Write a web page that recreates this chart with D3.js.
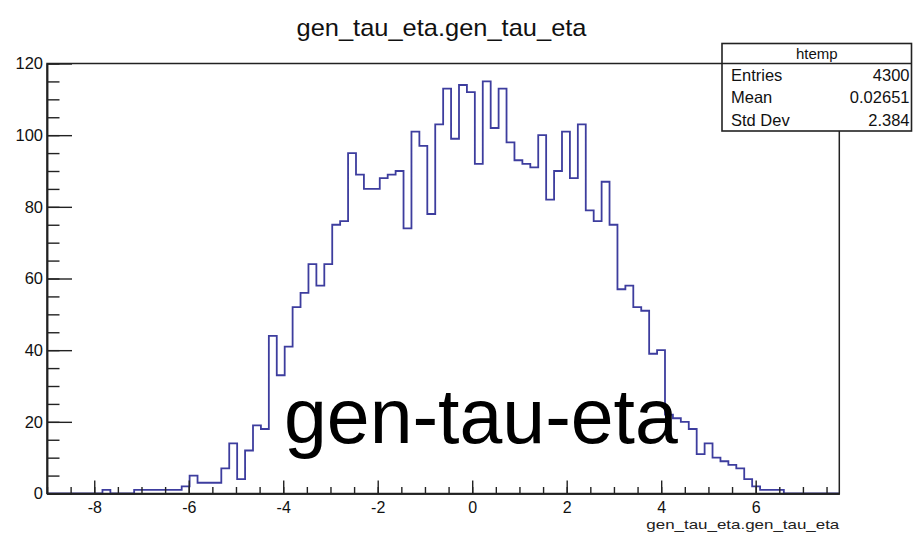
<!DOCTYPE html>
<html>
<head>
<meta charset="utf-8">
<script src="https://cdn.jsdelivr.net/npm/d3@7"></script>
<style>
  html, body { margin: 0; padding: 0; background: #fff; }
  svg { display: block; }
  text { font-family: "Liberation Sans", Arial, Helvetica, sans-serif; }
</style>
</head>
<body>
<svg id="chart" width="913" height="533"></svg>
<script>
// Histogram binning (100 equal bins) and bin contents
const xMin = -9.0;
const xMax = 7.77;
const nBins = 100;
const counts = [
  0, 0, 0, 0, 0, 0, 0, 1, 0, 0,
  0, 1, 1, 1, 1, 1, 1, 2, 5, 3,
  3, 3, 7, 14, 4, 12, 19, 18, 44, 33,
  41, 52, 56, 64, 58, 64, 75, 76, 95, 89,
  85, 85, 88, 89, 90, 74, 101, 97, 78, 103,
  113, 99, 114, 112, 92, 115, 102, 113, 98, 93,
  92, 91, 100, 82, 90, 101, 88, 103, 79, 76,
  87, 75, 57, 58, 52, 51, 39, 40, 22, 21,
  20, 18, 11, 14, 10, 9, 8, 7, 4, 2,
  1, 1, 1, 0, 0, 0, 0, 0, 0, 0
];

// Axis ticks
const xMajorTicks = [-8, -6, -4, -2, 0, 2, 4, 6];
const xMinorStep = 0.5;
const yMax = 120;
const yMajorTicks = [0, 20, 40, 60, 80, 100, 120];
const yMinorStep = 5;

// Texts
const histTitle = "gen_tau_eta.gen_tau_eta";
const xAxisTitle = "gen_tau_eta.gen_tau_eta";
const statsName = "htemp";
const statsLabels = ["Entries", "Mean", "Std Dev"];
const statsValues = ["4300", "0.02651", "2.384"];
const overlayText = "gen-tau-eta";

// Layout
const frame = { left: 47, right: 839.3, top: 63.5, bottom: 493.5 };
const lineColor = "#3d3d9e";
const axisColor = "#222";

const svg = d3.select("#chart");

const x = d3.scaleLinear().domain([xMin, xMax]).range([frame.left, frame.right]);
const y = d3.scaleLinear().domain([0, yMax]).range([frame.bottom, frame.top]);

// frame background
svg.append("rect")
  .attr("x", frame.left).attr("y", frame.top)
  .attr("width", frame.right - frame.left).attr("height", frame.bottom - frame.top)
  .attr("fill", "#fff");

// histogram outline
const binW = (xMax - xMin) / nBins;
const pts = counts.map((c, i) => [xMin + i * binW, c]);
pts.push([xMax, counts[counts.length - 1]]);
const line = d3.line().x(d => x(d[0])).y(d => y(d[1])).curve(d3.curveStepAfter);
svg.append("path")
  .attr("d", line(pts))
  .attr("fill", "none")
  .attr("stroke", lineColor)
  .attr("stroke-width", 1.8)
  .attr("stroke-linejoin", "miter");

// axes: minor ticks
const xMinor = d3.range(-9, xMax, xMinorStep);
const yMinor = d3.range(0, yMax + 0.01, yMinorStep);

const styleAxis = g => {
  g.selectAll("path.domain").attr("stroke", axisColor).attr("stroke-width", 1.5);
  g.selectAll(".tick line").attr("stroke", axisColor).attr("stroke-width", 1.4);
};

svg.append("g")
  .attr("transform", `translate(0,${frame.bottom})`)
  .call(d3.axisBottom(x).tickValues(xMinor).tickSizeInner(-6.5).tickSizeOuter(0).tickFormat(""))
  .call(styleAxis);

svg.append("g")
  .attr("transform", `translate(${frame.left},0)`)
  .call(d3.axisLeft(y).tickValues(yMinor).tickSizeInner(-12.5).tickSizeOuter(0).tickFormat(""))
  .call(styleAxis);

// axes: major ticks with labels
const gx = svg.append("g")
  .attr("transform", `translate(0,${frame.bottom})`)
  .call(d3.axisBottom(x).tickValues(xMajorTicks).tickSizeInner(-13).tickSizeOuter(0)
    .tickPadding(8).tickFormat(d3.format("d")))
  .call(styleAxis);
gx.selectAll("text")
  .attr("font-size", 16).attr("fill", "#111")
  .attr("font-family", "Liberation Sans, Arial, sans-serif")
  .text(d => d < 0 ? "-" + Math.abs(d) : String(d));

const gy = svg.append("g")
  .attr("transform", `translate(${frame.left},0)`)
  .call(d3.axisLeft(y).tickValues(yMajorTicks).tickSizeInner(-25).tickSizeOuter(0)
    .tickPadding(4).tickFormat(d3.format("d")))
  .call(styleAxis);
gy.selectAll("text")
  .attr("font-size", 16.5).attr("fill", "#111")
  .attr("font-family", "Liberation Sans, Arial, sans-serif");

// frame border
svg.append("rect")
  .attr("x", frame.left).attr("y", frame.top)
  .attr("width", frame.right - frame.left).attr("height", frame.bottom - frame.top)
  .attr("fill", "none").attr("stroke", axisColor).attr("stroke-width", 1.5);

// x-axis title
svg.append("text")
  .attr("x", frame.right).attr("y", 528.5)
  .attr("text-anchor", "end")
  .attr("font-size", 13).attr("fill", "#222")
  .attr("textLength", 193).attr("lengthAdjust", "spacingAndGlyphs")
  .text(xAxisTitle);

// histogram title
svg.append("text")
  .attr("x", 441.5).attr("y", 36)
  .attr("text-anchor", "middle")
  .attr("font-size", 24).attr("fill", "#111")
  .attr("textLength", 290).attr("lengthAdjust", "spacingAndGlyphs")
  .text(histTitle);

// statistics box
const sb = { left: 722, right: 911.5, top: 43.5, header: 63.5, bottom: 131 };
svg.append("rect")
  .attr("x", sb.left).attr("y", sb.top)
  .attr("width", sb.right - sb.left).attr("height", sb.bottom - sb.top)
  .attr("fill", "#fff").attr("stroke", axisColor).attr("stroke-width", 1.6);
svg.append("line")
  .attr("x1", sb.left).attr("x2", sb.right)
  .attr("y1", sb.header).attr("y2", sb.header)
  .attr("stroke", axisColor).attr("stroke-width", 1.4);
svg.append("text")
  .attr("x", (sb.left + sb.right) / 2).attr("y", 59)
  .attr("text-anchor", "middle").attr("font-size", 15).attr("fill", "#111")
  .text(statsName);

const rowY = d3.scaleBand().domain(statsLabels).range([sb.header, sb.bottom]);
statsLabels.forEach((lab, i) => {
  const by = rowY(lab) + rowY.bandwidth() / 2 + 6;
  svg.append("text")
    .attr("x", sb.left + 9).attr("y", by)
    .attr("font-size", 16.5).attr("fill", "#111")
    .text(lab);
  svg.append("text")
    .attr("x", sb.right - 2).attr("y", by)
    .attr("text-anchor", "end")
    .attr("font-size", 16.5).attr("fill", "#111")
    .text(statsValues[i]);
});

// overlay caption
svg.append("text")
  .attr("x", 284).attr("y", 443)
  .attr("font-size", 77).attr("fill", "#000")
  .attr("font-family", "Liberation Sans, Arial, Helvetica, sans-serif")
  .text(overlayText);
</script>
</body>
</html>
